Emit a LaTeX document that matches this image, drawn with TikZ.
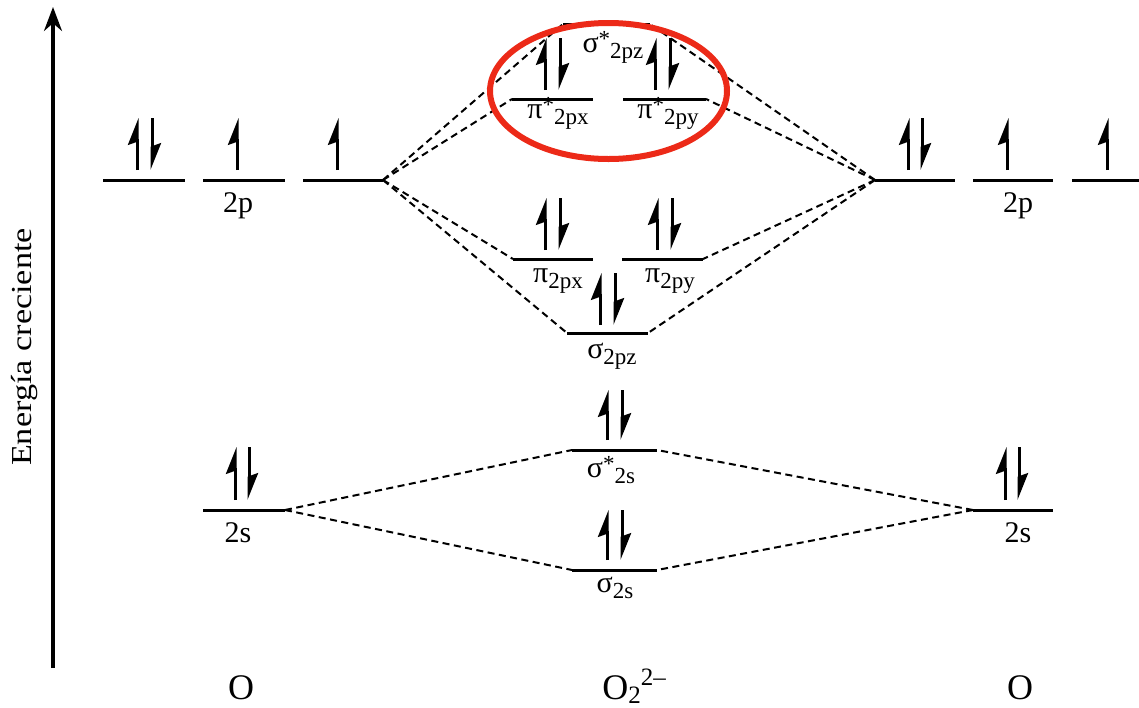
\documentclass[tikz,border=0pt]{standalone}
\usepackage{fontspec}
\setmainfont{Liberation Serif}
\usetikzlibrary{arrows.meta}
\definecolor{ringred}{RGB}{236,42,24}
\newcommand{\sx}[1]{\raisebox{-6pt}{\fontsize{23}{23}\selectfont #1}}
\newcommand{\st}{\raisebox{6pt}{\fontsize{23}{23}\selectfont *}}
\begin{document}
\begin{tikzpicture}[x=1pt,y=-1pt,
  level/.style={line width=3pt},
  link/.style={line width=2pt, dash pattern=on 7pt off 4.5pt},
  spin/.style={line width=3pt, -{Stealth[harpoon,length=23pt,width=18pt,inset=3pt]}},
  lab/.style={font=\fontsize{30}{30}\selectfont, inner sep=0pt, anchor=base},
  big/.style={font=\fontsize{36}{36}\selectfont, inner sep=0pt, anchor=base},
  axis/.style={line width=3.2pt, -{Stealth[length=24pt,width=18pt]}}
]
\useasboundingbox (0,0) rectangle (1139,707);
% axis
\coordinate (ax0) at (53,668);
\coordinate (ax1) at (53,7);
\draw[axis] (ax0) -- (ax1);
\node[font=\fontsize{29}{29}\selectfont, rotate=90, inner sep=0pt] (axlab) at (25,347) {\scalebox{1.18}[1]{Energía creciente}};

% levels
\newcommand{\lvl}[4]{\coordinate (#1-l) at (#2,#4); \coordinate (#1-r) at (#3,#4); \draw[level] (#1-l) -- (#1-r);}
\lvl{L1}{103}{185}{180}
\lvl{L2}{203}{285}{180}
\lvl{L3}{303}{383}{180}
\lvl{R1}{875}{955}{180}
\lvl{R2}{973}{1053}{180}
\lvl{R3}{1072}{1139}{180}
\lvl{Ls}{203}{285}{510}
\lvl{Rs}{973}{1053}{510}
\lvl{ss}{572}{657}{570}
\lvl{sss}{572}{657}{450}
\lvl{spz}{567}{648}{333}
\lvl{px}{513}{593}{259}
\lvl{py}{622}{703}{259}
\lvl{psx}{512}{593}{99}
\lvl{psy}{623}{706}{99}
\lvl{sspz}{563}{650}{24}

% correlation lines
\foreach \t in {sspz-l,psx-l,px-l,spz-l} \draw[link] (L3-r) -- (\t);
\foreach \t in {sspz-r,psy-r,py-r,spz-r} \draw[link] (R1-l) -- (\t);
\foreach \t in {sss-l,ss-l} \draw[link] (Ls-r) -- (\t);
\foreach \t in {sss-r,ss-r} \draw[link] (Rs-l) -- (\t);

% electrons
\newcommand{\up}[3]{\draw[spin] (#1,#3) -- (#1,#2);}
\newcommand{\dn}[3]{\draw[spin] (#1,#2) -- (#1,#3);}
\up{137}{118}{170}\dn{152}{118}{170}
\up{237}{118}{170}
\up{337}{118}{170}
\up{908}{118}{170}\dn{922}{118}{170}
\up{1007}{118}{170}
\up{1107}{118}{170}
\up{235}{447}{500}\dn{249}{447}{500}
\up{1005}{447}{500}\dn{1019}{447}{500}
\up{607}{390}{440}\dn{622}{390}{440}
\up{607}{510}{560}\dn{622}{510}{560}
\up{600}{273}{325}\dn{615}{273}{325}
\up{545}{198}{250}\dn{560}{198}{250}
\up{657}{198}{250}\dn{672}{198}{250}
\up{545}{38}{90}\dn{560}{38}{90}
\up{655}{38}{90}\dn{670}{38}{90}

% ring
\draw[ringred, line width=6pt] (608.5,91) ellipse [x radius=118.5pt, y radius=68pt];

% labels
\node[lab] (t2pL) at (238,212) {2p};
\node[lab] (t2pR) at (1018,212) {2p};
\node[lab] (t2sL) at (238,542) {2s};
\node[lab] (t2sR) at (1018,542) {2s};
\node[lab] (tss) at (611,477) {σ\st\sx{2s}};
\node[lab] (ts) at (615,592) {σ\sx{2s}};
\node[lab] (tspz) at (612,358) {σ\sx{2pz}};
\node[lab] (tpx) at (558,282) {π\sx{2px}};
\node[lab] (tpy) at (670,282) {π\sx{2py}};
\node[lab] (tpsx) at (558,118) {π\st\sx{2px}};
\node[lab] (tpsy) at (668,118) {π\st\sx{2py}};
\node[lab] (tsspz) at (613,52) {σ\st\sx{2pz}};
\node[big] (oL) at (241,699) {O};
\node[big] (oR) at (1020,699) {O};
\node[big] (o2) at (634,699) {O\raisebox{-4pt}{\fontsize{25}{25}\selectfont 2}\raisebox{14pt}{\fontsize{25}{25}\selectfont 2–}};
\end{tikzpicture}
\end{document}
